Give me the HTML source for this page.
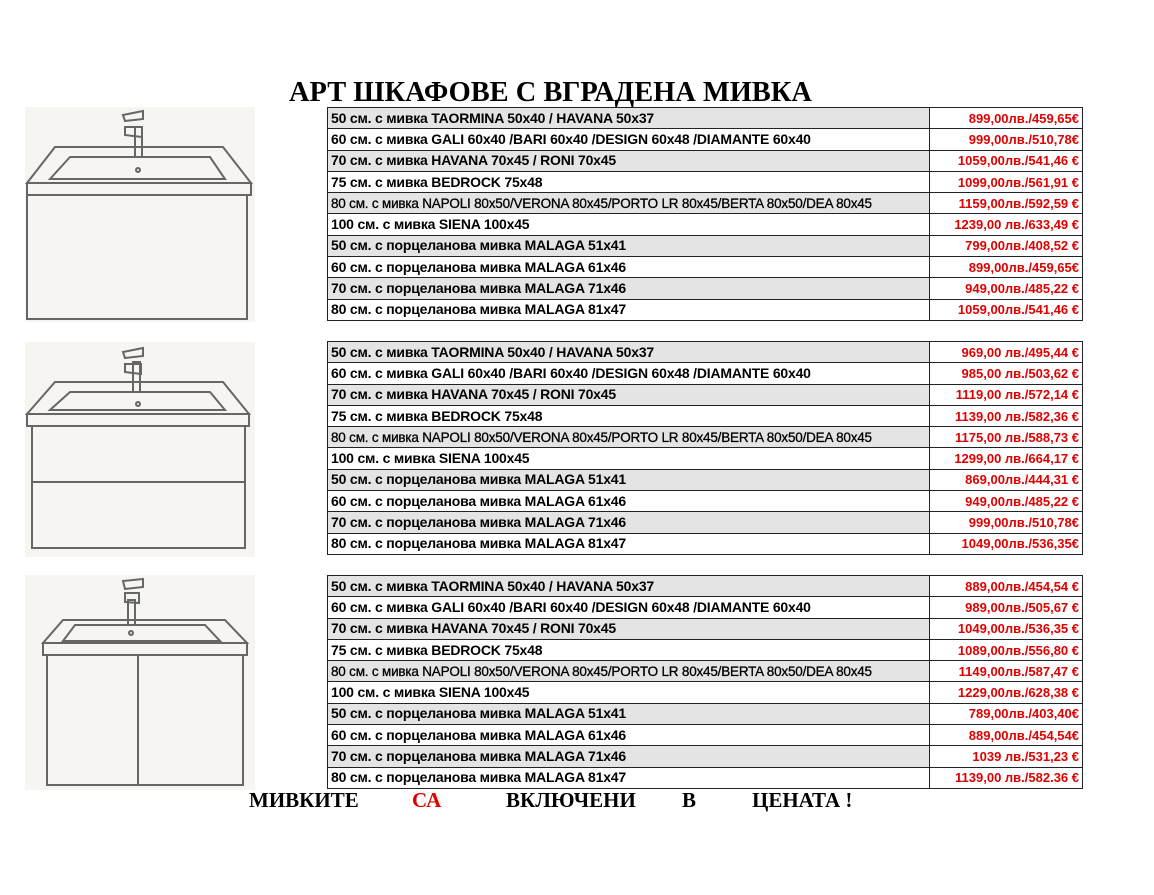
<!DOCTYPE html>
<html><head><meta charset="utf-8"><style>
body{margin:0;width:1154px;height:895px;background:#fff;position:relative;overflow:hidden;font-family:"Liberation Sans",sans-serif}
.t{position:absolute;left:327px;width:756px;border-collapse:collapse;table-layout:fixed}
.t td{border:1px solid #222;height:20.3px;padding:0 3px;font-size:14px;font-weight:bold;white-space:nowrap;overflow:hidden;line-height:19px;letter-spacing:-0.2px}
.t td.p{color:#e00000;text-align:right;width:146px;background:#fff!important;font-size:13px;letter-spacing:0}
.t tr:nth-child(odd) td{background:#e4e4e4}
.t td.s{font-size:13.5px;font-weight:normal;-webkit-text-stroke:0.3px #000;letter-spacing:-0.2px}
h1{position:absolute;left:289px;top:77px;margin:0;white-space:nowrap;font:bold 28px "Liberation Serif",serif;transform:scaleX(1.015);transform-origin:left}
.f{position:absolute;top:788px;font:bold 21px "Liberation Serif",serif}
svg{position:absolute}
</style></head><body>
<h1>АРТ ШКАФОВЕ С ВГРАДЕНА МИВКА</h1>

<svg style="left:25px;top:107px" width="230" height="215" viewBox="0 0 230 215">
<rect width="230" height="215" fill="#f6f5f1"/>
<g fill="none" stroke="#666" stroke-width="2">
<path d="M2 76 L30 40 L198 40 L226 76 Z"/><rect x="2" y="76" width="224" height="12"/>
<path d="M25 72 L45 50 L185 50 L200 72 Z"/><circle cx="113" cy="63" r="2"/>
<rect x="110" y="20" width="7" height="30"/><path d="M98 8 L118 4 L118 12 L100 14 Z M100 20 L117 20 L117 30 L100 28 Z"/>
<rect x="2" y="88" width="220" height="124"/></g></svg>

<svg style="left:25px;top:342px" width="230" height="215" viewBox="0 0 230 215">
<rect width="230" height="215" fill="#f6f5f1"/>
<g fill="none" stroke="#666" stroke-width="2">
<path d="M2 72 L30 40 L198 40 L224 72 Z"/><rect x="2" y="72" width="222" height="12"/>
<path d="M25 68 L45 50 L185 50 L200 68 Z"/><circle cx="113" cy="62" r="2"/>
<rect x="108" y="20" width="7" height="30"/><path d="M98 10 L118 6 L118 14 L100 16 Z M100 22 L116 22 L116 32 L100 30 Z"/>
<rect x="7" y="84" width="213" height="122"/><line x1="7" y1="140" x2="220" y2="140"/></g></svg>

<svg style="left:25px;top:575px" width="230" height="215" viewBox="0 0 230 215">
<rect width="230" height="215" fill="#f6f5f1"/>
<g fill="none" stroke="#666" stroke-width="2">
<path d="M18 68 L38 45 L200 45 L222 68 Z"/><rect x="18" y="68" width="204" height="12"/>
<path d="M38 66 L50 50 L180 50 L195 66 Z"/><circle cx="106" cy="58" r="2"/>
<rect x="103" y="25" width="7" height="25"/><path d="M98 6 L118 4 L118 12 L100 14 Z M100 18 L114 18 L114 28 L100 27 Z"/>
<rect x="22" y="80" width="196" height="130"/><line x1="113" y1="80" x2="113" y2="210"/></g></svg>

<table class="t" style="top:107px">
<tr><td>50 см. с мивка TAORMINA 50x40 / HAVANA 50x37</td><td class="p">899,00лв./459,65€</td></tr>
<tr><td>60 см. с мивка GALI 60x40 /BARI 60x40 /DESIGN 60x48 /DIAMANTE 60x40</td><td class="p">999,00лв./510,78€</td></tr>
<tr><td>70 см. с мивка HAVANA 70x45 / RONI 70x45</td><td class="p">1059,00лв./541,46 €</td></tr>
<tr><td>75 см. с мивка BEDROCK 75x48</td><td class="p">1099,00лв./561,91 €</td></tr>
<tr><td class="s">80 см. с мивка NAPOLI 80x50/VERONA 80x45/PORTO LR 80x45/BERTA 80x50/DEA 80x45</td><td class="p">1159,00лв./592,59 €</td></tr>
<tr><td>100 см. с мивка SIENA 100x45</td><td class="p">1239,00 лв./633,49 €</td></tr>
<tr><td>50 см. с порцеланова мивка MALAGA 51x41</td><td class="p">799,00лв./408,52 €</td></tr>
<tr><td>60 см. с порцеланова мивка MALAGA 61x46</td><td class="p">899,00лв./459,65€</td></tr>
<tr><td>70 см. с порцеланова мивка MALAGA 71x46</td><td class="p">949,00лв./485,22 €</td></tr>
<tr><td>80 см. с порцеланова мивка MALAGA 81x47</td><td class="p">1059,00лв./541,46 €</td></tr>
</table>

<table class="t" style="top:341px">
<tr><td>50 см. с мивка TAORMINA 50x40 / HAVANA 50x37</td><td class="p">969,00 лв./495,44 €</td></tr>
<tr><td>60 см. с мивка GALI 60x40 /BARI 60x40 /DESIGN 60x48 /DIAMANTE 60x40</td><td class="p">985,00 лв./503,62 €</td></tr>
<tr><td>70 см. с мивка HAVANA 70x45 / RONI 70x45</td><td class="p">1119,00 лв./572,14 €</td></tr>
<tr><td>75 см. с мивка BEDROCK 75x48</td><td class="p">1139,00 лв./582,36 €</td></tr>
<tr><td class="s">80 см. с мивка NAPOLI 80x50/VERONA 80x45/PORTO LR 80x45/BERTA 80x50/DEA 80x45</td><td class="p">1175,00 лв./588,73 €</td></tr>
<tr><td>100 см. с мивка SIENA 100x45</td><td class="p">1299,00 лв./664,17 €</td></tr>
<tr><td>50 см. с порцеланова мивка MALAGA 51x41</td><td class="p">869,00лв./444,31 €</td></tr>
<tr><td>60 см. с порцеланова мивка MALAGA 61x46</td><td class="p">949,00лв./485,22 €</td></tr>
<tr><td>70 см. с порцеланова мивка MALAGA 71x46</td><td class="p">999,00лв./510,78€</td></tr>
<tr><td>80 см. с порцеланова мивка MALAGA 81x47</td><td class="p">1049,00лв./536,35€</td></tr>
</table>

<table class="t" style="top:575px">
<tr><td>50 см. с мивка TAORMINA 50x40 / HAVANA 50x37</td><td class="p">889,00лв./454,54 €</td></tr>
<tr><td>60 см. с мивка GALI 60x40 /BARI 60x40 /DESIGN 60x48 /DIAMANTE 60x40</td><td class="p">989,00лв./505,67 €</td></tr>
<tr><td>70 см. с мивка HAVANA 70x45 / RONI 70x45</td><td class="p">1049,00лв./536,35 €</td></tr>
<tr><td>75 см. с мивка BEDROCK 75x48</td><td class="p">1089,00лв./556,80 €</td></tr>
<tr><td class="s">80 см. с мивка NAPOLI 80x50/VERONA 80x45/PORTO LR 80x45/BERTA 80x50/DEA 80x45</td><td class="p">1149,00лв./587,47 €</td></tr>
<tr><td>100 см. с мивка SIENA 100x45</td><td class="p">1229,00лв./628,38 €</td></tr>
<tr><td>50 см. с порцеланова мивка MALAGA 51x41</td><td class="p">789,00лв./403,40€</td></tr>
<tr><td>60 см. с порцеланова мивка MALAGA 61x46</td><td class="p">889,00лв./454,54€</td></tr>
<tr><td>70 см. с порцеланова мивка MALAGA 71x46</td><td class="p">1039 лв./531,23 €</td></tr>
<tr><td>80 см. с порцеланова мивка MALAGA 81x47</td><td class="p">1139,00 лв./582.36 €</td></tr>
</table>

<div class="f" style="left:249px">МИВКИТЕ</div>
<div class="f" style="left:412px;color:#e00000">СА</div>
<div class="f" style="left:506px">ВКЛЮЧЕНИ</div>
<div class="f" style="left:682px">В</div>
<div class="f" style="left:752px">ЦЕНАТА !</div>
</body></html>
